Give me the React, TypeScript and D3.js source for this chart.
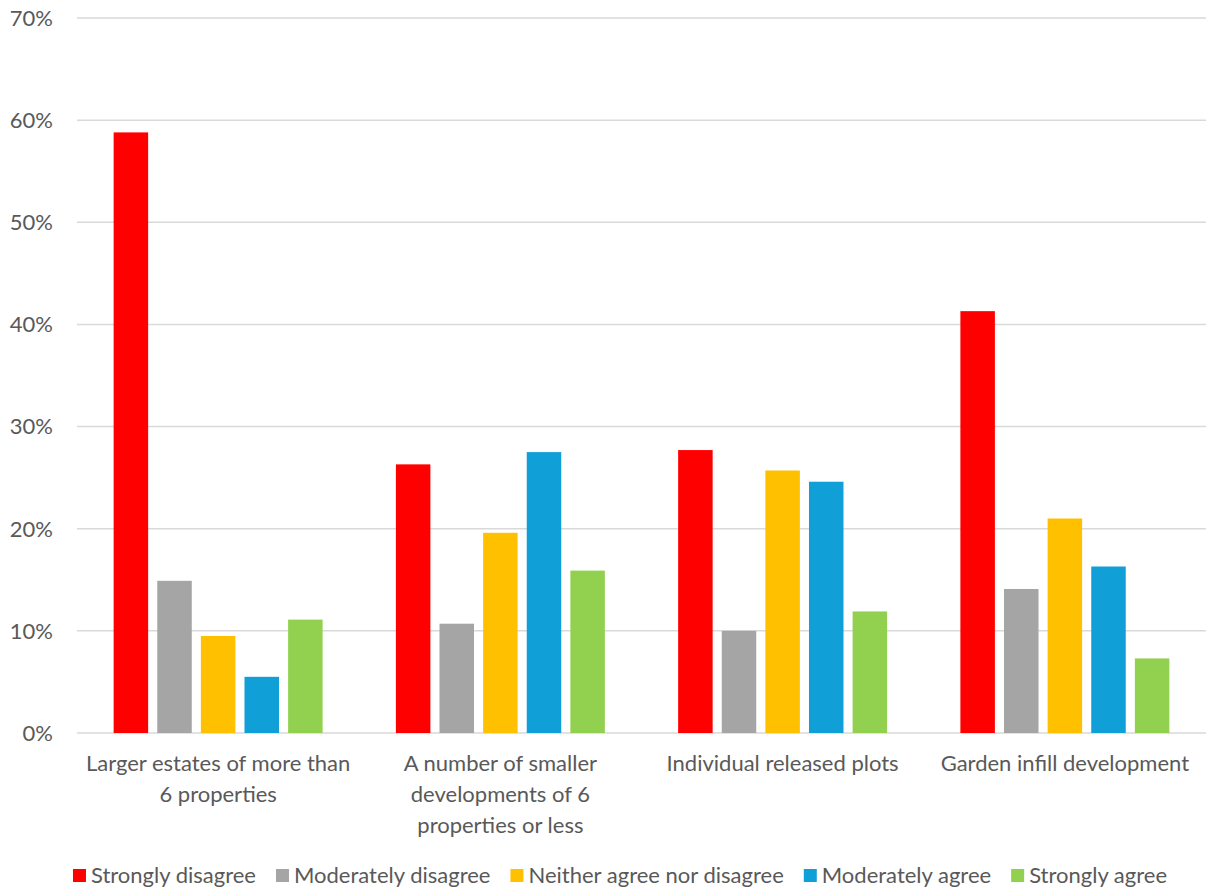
import React, { useEffect, useRef } from "react";
import * as d3 from "d3";

const categories = [
  "Larger estates of more than 6 properties",
  "A number of smaller developments of 6 properties or less",
  "Individual released plots",
  "Garden infill development",
];
const categoryLines = [
  ["Larger estates of more than", "6 properties"],
  ["A number of smaller", "developments of 6", "properties or less"],
  ["Individual released plots"],
  ["Garden infill development"],
];
const seriesNames = [
  "Strongly disagree",
  "Moderately disagree",
  "Neither agree nor disagree",
  "Moderately agree",
  "Strongly agree",
];
const seriesColors = ["#FF0000", "#A5A5A5", "#FFC000", "#109FD6", "#92D050"];
const stronglyDisagree = [58.8, 26.3, 27.7, 41.3];
const moderatelyDisagree = [14.9, 10.7, 10.0, 14.1];
const neither = [9.5, 19.6, 25.7, 21.0];
const moderatelyAgree = [5.5, 27.5, 24.6, 16.3];
const stronglyAgree = [11.1, 15.9, 11.9, 7.3];
const yTicks = [0, 10, 20, 30, 40, 50, 60, 70];

const seriesValues = [stronglyDisagree, moderatelyDisagree, neither, moderatelyAgree, stronglyAgree];

const W = 1207;
const H = 887;
const FONT = "Lato, 'Open Sans', sans-serif";
const FS = 22;
const TEXT = "#595959";

export default function App() {
  const ref = useRef<SVGSVGElement | null>(null);

  useEffect(() => {
    const svg = d3.select(ref.current);
    svg.selectAll("*").remove();

    const left = 77;
    const right = 1206;
    const top = 18;
    const bottom = 733;

    const y = d3.scaleLinear().domain([0, 70]).range([bottom, top]);
    const x0 = d3.scaleBand<string>().domain(categories).range([left, right]).padding(0);
    const x1 = d3
      .scaleBand<string>()
      .domain(seriesNames)
      .range([0, x0.bandwidth()])
      .paddingInner(0.209)
      .paddingOuter(0.84);

    // gridlines
    svg
      .append("g")
      .selectAll("line")
      .data(yTicks)
      .join("line")
      .attr("x1", left)
      .attr("x2", right)
      .attr("y1", (d) => y(d))
      .attr("y2", (d) => y(d))
      .attr("stroke", "#D9D9D9")
      .attr("stroke-width", 1.5);

    // y labels
    svg
      .append("g")
      .selectAll("text")
      .data(yTicks)
      .join("text")
      .attr("x", 53)
      .attr("y", (d) => y(d))
      .attr("dy", "0.36em")
      .attr("text-anchor", "end")
      .attr("font-family", FONT)
      .attr("font-size", FS)
      .attr("fill", TEXT)
      .text((d) => `${d}%`);

    // bars
    const groups = svg
      .append("g")
      .selectAll("g")
      .data(categories)
      .join("g")
      .attr("transform", (d) => `translate(${x0(d)},0)`);

    groups
      .selectAll("rect")
      .data((_, ci) => seriesNames.map((s, si) => ({ s, si, v: seriesValues[si][ci] })))
      .join("rect")
      .attr("x", (d) => x1(d.s)!)
      .attr("width", x1.bandwidth())
      .attr("y", (d) => y(d.v))
      .attr("height", (d) => y(0) - y(d.v))
      .attr("fill", (d) => seriesColors[d.si]);

    // category labels
    const catG = svg.append("g");
    categories.forEach((c, i) => {
      const cx = x0(c)! + x0.bandwidth() / 2;
      categoryLines[i].forEach((line, li) => {
        catG
          .append("text")
          .attr("x", cx)
          .attr("y", 771 + li * 31)
          .attr("text-anchor", "middle")
          .attr("font-family", FONT)
          .attr("font-size", FS)
          .attr("fill", TEXT)
          .text(line);
      });
    });

    // legend
    const legG = svg.append("g");
    const sq = 13;
    const gapAfterSq = 5;
    const gapItems = 20;
    const items = seriesNames.map((name, i) => {
      const t = legG
        .append("text")
        .attr("y", 883)
        .attr("font-family", FONT)
        .attr("font-size", FS)
        .attr("fill", TEXT)
        .text(name);
      const w = (t.node() as SVGTextElement).getComputedTextLength();
      return { t, w, i };
    });
    const total =
      items.reduce((a, it) => a + sq + gapAfterSq + it.w, 0) + gapItems * (items.length - 1);
    let cx = 620 - total / 2;
    items.forEach((it) => {
      legG
        .append("rect")
        .attr("x", cx)
        .attr("y", 869)
        .attr("width", sq)
        .attr("height", sq)
        .attr("fill", seriesColors[it.i]);
      it.t.attr("x", cx + sq + gapAfterSq);
      cx += sq + gapAfterSq + it.w + gapItems;
    });
  }, []);

  return (
    <svg
      ref={ref}
      width={W}
      height={H}
      style={{ position: "absolute", left: 0, top: 0, background: "#fff" }}
    />
  );
}
